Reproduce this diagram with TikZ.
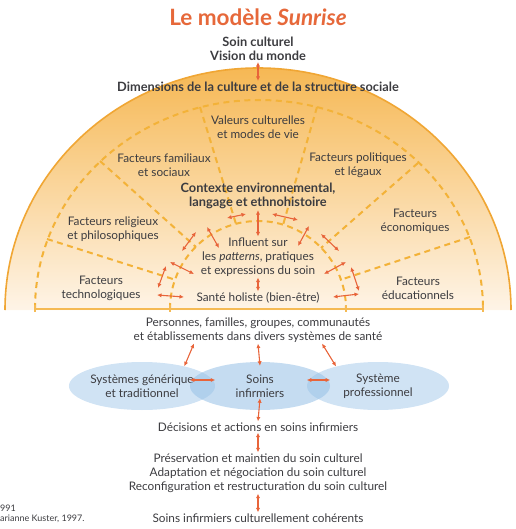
\documentclass[tikz,border=0pt]{standalone}
\usepackage{fontspec}
\setmainfont{Lato}
\usetikzlibrary{shapes.geometric,arrows.meta,positioning}

\definecolor{sunorange}{RGB}{246,184,84}
\definecolor{sunmid}{RGB}{251,216,164}
\definecolor{suncream}{RGB}{254,244,231}
\definecolor{arcorange}{RGB}{240,166,52}
\definecolor{dashorange}{RGB}{243,178,56}
\definecolor{baseorange}{RGB}{245,186,84}
\definecolor{arrowred}{RGB}{232,100,58}
\definecolor{titleorange}{RGB}{230,104,58}
\definecolor{inkgray}{RGB}{60,60,64}
\definecolor{sysblue}{RGB}{150,192,230}

\begin{document}
\begin{tikzpicture}[x=1pt,y=-1pt,
    lbl/.style={font=\fontsize{11.8}{14}\selectfont, text=inkgray, align=center, inner sep=1pt},
    lblbold/.style={lbl, font=\fontsize{12.8}{14}\selectfont\bfseries},
    biarrow/.style={draw=arrowred, line width=1.1pt, {Latex[length=4.5pt,width=4.2pt]}-{Latex[length=4.5pt,width=4.2pt]}},
    sunline/.style={draw=dashorange, line width=2pt, dash pattern=on 6pt off 4.5pt},
    sysell/.style={ellipse, lbl, fill=sysblue, fill opacity=0.45, text opacity=1, minimum width=142pt, minimum height=48pt, inner sep=0pt}]

    \useasboundingbox (0,0) rectangle (515,529);

    %Title
    \node[font=\fontsize{22.5}{26}\selectfont\bfseries, text=titleorange] (title) at (258,17) {Le modèle \textit{Sunrise}};
    \node[lblbold] (soin) at (258,49) {Soin culturel\\Vision du monde};

    %Half disc
    \shade[top color=sunorange, middle color=sunmid, bottom color=suncream]
        (5,310) arc[start angle=180, end angle=0, x radius=253pt, y radius=242pt] -- cycle;
    \draw[arcorange, line width=1.6pt]
        (5,310) arc[start angle=180, end angle=0, x radius=253pt, y radius=242pt];

    %Dashed rings and sector borders
    \draw[sunline] (35,309) arc[start angle=180, end angle=0, x radius=224pt, y radius=209pt];
    \draw[sunline] (170,309) arc[start angle=180, end angle=0, radius=88pt];
    \foreach \xa/\ya/\xb/\yb in {200/107/236/224, 317/107/283/225, 100/161/196/247,
                                 418/163/321/248, 47/239/176/280, 470/237/340/280}
    \draw[sunline] (\xa,\ya) -- (\xb,\yb);

    %Base line
    \draw[baseorange, line width=1.4pt] (35,309) -- (483,309);
    \foreach \x in {35,170,346,483}
    \draw[baseorange, line width=1.4pt] (\x,305) -- (\x,312);

    %Sector labels
    \node[lblbold] (dims) at (258,87) {Dimensions de la culture et de la structure sociale};
    \node[lbl] (valeurs) at (258,127) {Valeurs culturelles\\et modes de vie};
    \node[lbl] (familiaux) at (164,165) {Facteurs familiaux\\et sociaux};
    \node[lbl] (politiques) at (358,165) {Facteurs politiques\\et légaux};
    \node[lblbold] (contexte) at (258,196) {Contexte environnemental,\\langage et ethnohistoire};
    \node[lbl] (religieux) at (113,229) {Facteurs religieux\\et philosophiques};
    \node[lbl] (economiques) at (415,221) {Facteurs\\économiques};
    \node[lbl] (influent) at (258,257) {Influent sur\\les \textit{patterns}, pratiques\\et expressions du soin};
    \node[lbl] (techno) at (101,288) {Facteurs\\technologiques};
    \node[lbl] (educ) at (418,288) {Facteurs\\éducationnels};
    \node[lbl] (sante) at (258,298) {Santé holiste (bien-être)};

    %Arrows inside the sunrise
    \draw[biarrow] (soin.south) -- (dims.north);
    \draw[biarrow] (contexte.south) -- (influent.north);
    \draw[biarrow] (influent.south) -- (sante.north);
    \foreach \xa/\ya/\xb/\yb in {227/218/246/214, 182/251/196/232, 207/227/219/248,
                                 170/262/194/274, 166/266/158/288, 157/295/184/297,
                                 272/214/298/220, 309/226/298/246, 321/234/339/251,
                                 324/274/346/262, 351/267/359/291, 333/297/359/294}
    \draw[biarrow] (\xa,\ya) -- (\xb,\yb);

    %Care systems
    \node[lbl] (personnes) at (258,330) {Personnes, familles, groupes, communautés\\et établissements dans divers systèmes de santé};
    \node[sysell] (generique) at (142,386) {Systèmes générique\\et traditionnel};
    \node[sysell] (pro) at (378,386) {Système\\professionnel};
    \node[sysell, minimum width=140pt, fill opacity=0.55] (soins) at (260,386) {Soins\\infirmiers};

    \draw[biarrow] ([xshift=-64pt]personnes.south) -- (generique.25);
    \draw[biarrow] (personnes.south) -- ([yshift=-4pt]soins.north);
    \draw[biarrow] ([xshift=64pt]personnes.south) -- (pro.155);
    \draw[biarrow] ([yshift=6pt]soins.west) -- ([yshift=6pt]generique.east);
    \draw[biarrow] ([yshift=6pt]pro.west) -- ([yshift=6pt]soins.east);

    %Nursing decisions
    \node[lbl] (decisions) at (258,427) {Décisions et actions en soins infirmiers};
    \node[lbl] (modes) at (258,473) {Préservation et maintien du soin culturel\\Adaptation et négociation du soin culturel\\Reconfiguration et restructuration du soin culturel};
    \node[lbl] (coherents) at (258,518) {Soins infirmiers culturellement cohérents};

    \draw[biarrow] ([yshift=12pt]soins.south) -- (decisions.north);
    \draw[biarrow] (decisions.south) -- (modes.north);
    \draw[biarrow] (modes.south) -- (coherents.north);

    %Source
    \node[font=\fontsize{9}{10}\selectfont, text=inkgray, anchor=west, inner sep=0pt] (srcyear) at (0,508) {991};
    \node[font=\fontsize{9}{10}\selectfont, text=inkgray, anchor=west, inner sep=0pt] (srcname) at (0,519) {arianne Kuster, 1997.};

\end{tikzpicture}
\end{document}
